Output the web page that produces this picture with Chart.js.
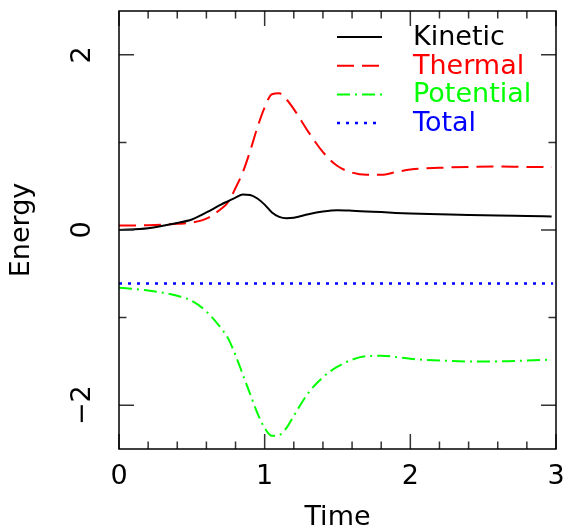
<!DOCTYPE html>
<html>
<head>
<meta charset="utf-8">
<title>Energy vs Time</title>
<script src="https://cdn.jsdelivr.net/npm/chart.js@4/dist/chart.umd.min.js"></script>
<style>
    html, body { margin: 0; padding: 0; background: #fff; }
    #wrap { width: 566px; height: 531px; }
</style>
</head>
<body>
<div id="wrap"><canvas id="energyChart" width="566" height="531"></canvas></div>
<script>
// Values
const time = [0, 0.2, 0.4, 0.5, 0.6, 0.7, 0.75, 0.8, 0.85, 0.9, 0.95, 1.0, 1.05, 1.1, 1.15, 1.2,
              1.3, 1.4, 1.5, 1.6, 1.7, 1.8, 1.9, 2.0, 2.2, 2.4, 2.6, 2.8, 2.97];
const kinetic = [0.0, 0.02, 0.08, 0.12, 0.2, 0.29, 0.33, 0.37, 0.405, 0.4, 0.36, 0.29, 0.2, 0.15, 0.135, 0.14,
                 0.18, 0.21, 0.225, 0.22, 0.212, 0.205, 0.195, 0.188, 0.18, 0.172, 0.165, 0.16, 0.155];
const thermal = [0.05, 0.055, 0.07, 0.085, 0.13, 0.24, 0.32, 0.48, 0.66, 0.9, 1.17, 1.4, 1.55, 1.56, 1.49, 1.38,
                 1.12, 0.89, 0.73, 0.655, 0.63, 0.63, 0.66, 0.69, 0.71, 0.72, 0.725, 0.72, 0.72];
const potential = [-0.66, -0.69, -0.75, -0.81, -0.93, -1.12, -1.24, -1.43, -1.65, -1.87, -2.09, -2.26, -2.35, -2.34, -2.26, -2.12,
                   -1.86, -1.68, -1.56, -1.48, -1.44, -1.435, -1.45, -1.47, -1.49, -1.5, -1.5, -1.49, -1.48];
const timeTotal = [0, 2.98];
const total = [-0.61, -0.61];

const xTicks = [0, 1, 2, 3];
const yTicks = [-2, 0, 2];
const xMinorStep = 0.2;
const yMinorStep = 1;

const FONT = "'DejaVu Sans ExtraLight', 'DejaVu Sans', sans-serif";

function toPoints(xs, ys) {
    return xs.map((x, i) => ({ x: x, y: ys[i] }));
}

function formatTick(v) {
    return v < 0 ? '\u2212' + Math.abs(v) : String(v);
}

// Frame with inward ticks on all four sides
const framePlugin = {
    id: 'frame',
    afterDatasetsDraw(chart) {
        const ctx = chart.ctx;
        const a = chart.chartArea;
        const xs = chart.scales.x;
        const ys = chart.scales.y;
        ctx.save();
        ctx.strokeStyle = '#333';
        ctx.lineWidth = 1.5;
        ctx.beginPath();

        for (let v = xs.min; v <= xs.max + 1e-9; v += xMinorStep) {
            const val = Math.round(v * 10) / 10;
            const px = xs.getPixelForValue(val);
            const len = xTicks.includes(val) ? 15 : 7.5;
            ctx.moveTo(px, a.bottom); ctx.lineTo(px, a.bottom - len);
            ctx.moveTo(px, a.top); ctx.lineTo(px, a.top + len);
        }
        for (let v = Math.ceil(ys.min); v <= ys.max; v += yMinorStep) {
            const py = ys.getPixelForValue(v);
            const len = yTicks.includes(v) ? 15 : 7.5;
            ctx.moveTo(a.left, py); ctx.lineTo(a.left + len, py);
            ctx.moveTo(a.right, py); ctx.lineTo(a.right - len, py);
        }
        ctx.stroke();

        ctx.strokeStyle = '#000';
        ctx.strokeRect(a.left, a.top, a.right - a.left, a.bottom - a.top);
        ctx.restore();
    }
};

// Legend drawn inside the plot, like the original
const insideLegend = {
    id: 'insideLegend',
    afterDatasetsDraw(chart) {
        const ctx = chart.ctx;
        const a = chart.chartArea;
        ctx.save();
        ctx.font = '27px ' + FONT;
        ctx.textBaseline = 'middle';
        ctx.textAlign = 'left';
        chart.data.datasets.forEach((ds, i) => {
            const y = a.top + 26 + i * 28.7;
            ctx.strokeStyle = ds.borderColor;
            ctx.lineWidth = ds.borderWidth;
            ctx.setLineDash(ds.borderDash || []);
            ctx.beginPath();
            ctx.moveTo(a.left + 218, y);
            ctx.lineTo(a.left + 263, y);
            ctx.stroke();
            ctx.setLineDash([]);
            ctx.fillStyle = ds.borderColor;
            ctx.fillText(ds.label, a.left + 294, y + 1);
        });
        ctx.restore();
    }
};

document.addEventListener('DOMContentLoaded', function() {
    const ctx = document.getElementById('energyChart').getContext('2d');

    new Chart(ctx, {
        type: 'line',
        data: {
            datasets: [{
                label: 'Kinetic',
                data: toPoints(time, kinetic),
                borderColor: '#000000',
                borderWidth: 2,
                borderDash: []
            }, {
                label: 'Thermal',
                data: toPoints(time, thermal),
                borderColor: '#ff0000',
                borderWidth: 2,
                borderDash: [17, 8]
            }, {
                label: 'Potential',
                data: toPoints(time, potential),
                borderColor: '#00ff00',
                borderWidth: 2,
                borderDash: [13, 5, 2, 5]
            }, {
                label: 'Total',
                data: toPoints(timeTotal, total),
                borderColor: '#0000ff',
                borderWidth: 2.5,
                borderDash: [3, 6]
            }]
        },
        options: {
            responsive: false,
            animation: false,
            events: [],
            layout: { padding: { top: 11, right: 10, left: 0, bottom: 0 } },
            elements: {
                point: { radius: 0 },
                line: { cubicInterpolationMode: 'monotone', fill: false }
            },
            plugins: {
                legend: { display: false },
                tooltip: { enabled: false }
            },
            scales: {
                x: {
                    type: 'linear',
                    min: 0,
                    max: 3,
                    afterFit: s => {
                        s.height = 82;
                        s.paddingLeft = 0;
                        s.paddingRight = 0;
                    },
                    afterBuildTicks: s => { s.ticks = xTicks.map(v => ({ value: v })); },
                    grid: { display: false, drawTicks: false },
                    border: { display: false },
                    ticks: {
                        autoSkip: false,
                        maxRotation: 0,
                        padding: 12,
                        color: '#000',
                        font: { family: FONT, size: 27 },
                        callback: v => formatTick(v)
                    },
                    title: {
                        display: true,
                        text: 'Time',
                        color: '#000',
                        font: { family: FONT, size: 27, lineHeight: 1 },
                        padding: { top: 0, bottom: 0 }
                    }
                },
                y: {
                    type: 'linear',
                    min: -2.5,
                    max: 2.5,
                    afterFit: s => {
                        s.width = 119;
                        s.paddingTop = 0;
                        s.paddingBottom = 0;
                    },
                    afterBuildTicks: s => { s.ticks = yTicks.map(v => ({ value: v })); },
                    grid: { display: false, drawTicks: false },
                    border: { display: false },
                    ticks: {
                        minRotation: 90,
                        maxRotation: 90,
                        crossAlign: 'center',
                        padding: 16,
                        color: '#000',
                        font: { family: FONT, size: 27 },
                        callback: v => formatTick(v)
                    },
                    title: {
                        display: true,
                        text: 'Energy',
                        color: '#000',
                        font: { family: FONT, size: 27, lineHeight: 1 },
                        padding: { top: 8, bottom: 0 }
                    }
                }
            }
        },
        plugins: [framePlugin, insideLegend]
    });
});
</script>
</body>
</html>
